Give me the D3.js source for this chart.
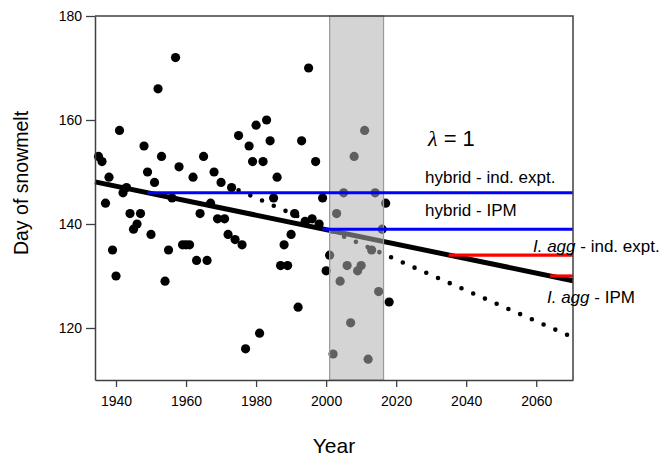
<!DOCTYPE html>
<html><head><meta charset="utf-8">
<script src="https://cdn.jsdelivr.net/npm/d3@7"></script>
<style>
html,body{margin:0;padding:0;background:#fff;}
text{font-family:"Liberation Sans",Arial,sans-serif;}
</style></head>
<body>
<svg id="chart" width="665" height="458"></svg>
<script>
// ---- data ----
const years = [1935,1936,1937,1938,1939,1940,1941,1942,1943,1944,1945,1946,1947,1948,1949,1950,
  1951,1952,1953,1954,1955,1956,1957,1958,1959,1960,1961,1962,1963,1964,1965,1966,1967,1968,1969,1970,
  1971,1972,1973,1974,1975,1976,1977,1978,1979,1980,1981,1982,1983,1984,1985,1986,1987,1988,1989,1990,
  1991,1992,1993,1994,1995,1996,1997,1998,1999,2000,
  2001,2002,2003,2004,2005,2006,2007,2008,2009,2010,2011,2012,2013,2014,2015,2016,
  2017,2018];
const snowmelt = [153,152,144,149,135,130,158,146,147,142,139,140,142,155,150,138,
  148,166,153,129,135,145,172,151,136,136,136,149,133,142,153,133,144,150,141,148,
  141,138,147,137,157,136,116,155,152,159,119,152,160,156,145,149,132,136,132,138,
  142,124,156,140.5,170,141,152,140,145,131,
  134,115,142,129,146,132,121,153,131,132,158,114,135,146,127,139,
  144,125];
const studyPeriod = [2001, 2016.4];
const trendYears = [1934, 2070.5];
const trendValues = [148.1, 129.1];
const projYears = [1975, 2068.8];
const projValues = [146.5, 118.7];
const hybridLabels = ["hybrid - ind. expt.", "hybrid - IPM"];
const hybridStart = [1949, 1999];
const hybridValues = [146, 139];
const aggStart = [2035, 2064];
const aggValues = [134, 130];
const lineEnd = 2070.5;
const xTicks = [1940,1960,1980,2000,2020,2040,2060];
const yTicks = [120,140,160,180];

// ---- layout ----
const svg = d3.select("#chart");
const L = 95, R = 573, T = 16, B = 380;
const x = d3.scaleLinear().domain([1934, 2070.5]).range([L, R]);
const y = d3.scaleLinear().domain([110, 180]).range([B, T]);

// points
svg.append("g").selectAll("circle").data(years).join("circle")
  .attr("cx", (d) => x(d)).attr("cy", (d, i) => y(snowmelt[i]))
  .attr("r", 4.6).attr("fill", "#000");

const line = d3.line().x(d => x(d[0])).y(d => y(d[1]));

// trend line
svg.append("path").attr("d", line(trendYears.map((d,i)=>[d,trendValues[i]])))
  .attr("stroke","#000").attr("stroke-width",5).attr("fill","none");

// projected dotted line
const pp = svg.append("path").attr("d", line(projYears.map((d,i)=>[d,projValues[i]])))
  .attr("stroke","#000").attr("stroke-width",4.6).attr("fill","none")
  .attr("stroke-linecap","round");
const len = pp.node().getTotalLength();
pp.attr("stroke-dasharray", `0 ${len/28}`);

// study period band (translucent overlay)
svg.append("rect")
  .attr("x", x(studyPeriod[0])).attr("y", T)
  .attr("width", x(studyPeriod[1]) - x(studyPeriod[0])).attr("height", B - T)
  .attr("fill", "#b0b0b0").attr("fill-opacity", 0.545)
  .attr("stroke", "#9a9a9a").attr("stroke-width", 1.2);

// hybrid (blue) lines
hybridStart.forEach((s, i) => {
  svg.append("path").attr("d", line([[s, hybridValues[i]], [lineEnd, hybridValues[i]]]))
    .attr("stroke", "#0000ff").attr("stroke-width", 3).attr("fill", "none");
});
// I. agg (red) lines
aggStart.forEach((s, i) => {
  svg.append("path").attr("d", line([[s, aggValues[i]], [lineEnd, aggValues[i]]]))
    .attr("stroke", "#ff0000").attr("stroke-width", 3.2).attr("fill", "none");
});

// axes
const ax = svg.append("g").attr("transform", `translate(0,${B})`)
  .call(d3.axisBottom(x).tickValues(xTicks).tickFormat(d3.format("d")).tickSize(7).tickPadding(9.5).tickSizeOuter(0));
const ay = svg.append("g").attr("transform", `translate(${L},0)`)
  .call(d3.axisLeft(y).tickValues(yTicks).tickSize(9).tickPadding(4).tickSizeOuter(0));
[ax, ay].forEach(g => {
  g.selectAll("text").attr("font-size", 14).attr("fill", "#000")
    .attr("font-family", "'Liberation Sans', Arial, sans-serif");
  g.selectAll("line").attr("stroke", "#404040").attr("stroke-width", 1.3);
  g.select(".domain").attr("stroke", "#404040").attr("stroke-width", 1.5);
});
// box top/right
svg.append("path").attr("d", `M${L},${T}H${R}V${B}`)
  .attr("stroke", "#404040").attr("stroke-width", 1.5).attr("fill", "none");

// axis titles
svg.append("text").attr("x", (L + R) / 2).attr("y", 453).attr("text-anchor", "middle")
  .attr("font-size", 21).text("Year");
svg.append("text").attr("transform", "translate(28,183) rotate(-90)").attr("text-anchor", "middle")
  .attr("font-size", 19.5).text("Day of snowmelt");

// annotations
const lam = svg.append("text").attr("x", 428).attr("y", 146).attr("font-size", 22);
lam.append("tspan").attr("font-family", "'Liberation Serif', 'Times New Roman', serif")
  .attr("font-style", "italic").text("λ");
lam.append("tspan").text(" = 1");

svg.append("text").attr("x", 425).attr("y", 183).attr("font-size", 17).text(hybridLabels[0]);
svg.append("text").attr("x", 425).attr("y", 216).attr("font-size", 17).text(hybridLabels[1]);

const a1 = svg.append("text").attr("x", 533).attr("y", 252).attr("font-size", 17);
a1.append("tspan").attr("font-style", "italic").text("I. agg");
a1.append("tspan").text(" - ind. expt.");
const a2 = svg.append("text").attr("x", 547).attr("y", 303).attr("font-size", 17);
a2.append("tspan").attr("font-style", "italic").text("I. agg");
a2.append("tspan").text(" - IPM");
</script>
</body></html>
